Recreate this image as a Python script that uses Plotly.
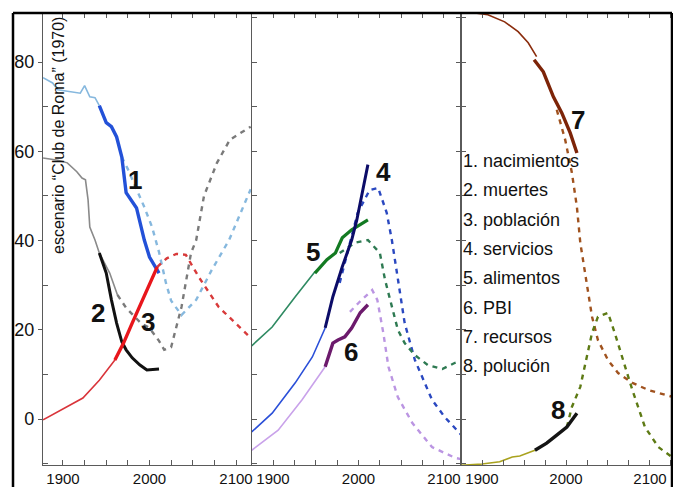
import plotly.graph_objects as go

# page body adds an 8px margin, so the figure is drawn 8px smaller and all
# screen-pixel positions below are shifted by that offset
OFF = 8
W, H = 681 - OFF, 487 - OFF

# ---------------- data ----------------
# Panel 1
births_hist_years = [1877, 1888, 1894, 1905, 1914, 1920, 1925, 1931, 1937, 1942]
births_hist_vals = [76.5, 75.3, 73.8, 73.5, 73.3, 73.0, 74.7, 72.2, 72.0, 70.2]
births_obs_years = [1942, 1950, 1956, 1962, 1968, 1973, 1985, 1994, 2000, 2011]
births_obs_vals = [70.2, 66.4, 65.5, 63.2, 58.7, 50.7, 47.3, 40.1, 36.3, 32.7]
births_proj_years = [1968, 1975, 1985, 1994, 2003, 2011, 2019, 2025, 2037, 2054, 2072, 2092, 2117]
births_proj_vals = [58.7, 56.0, 51.5, 47.5, 43.0, 37.4, 30.5, 26.5, 23.3, 26.7, 33.4, 40.1, 51.5]

deaths_hist_years = [1877, 1894, 1905, 1916, 1922, 1926, 1929, 1931, 1937, 1942, 1954, 1963]
deaths_hist_vals = [58.5, 58.0, 57.4, 55.4, 54.0, 53.6, 49.1, 43.0, 40.1, 37.2, 32.7, 27.8]
deaths_obs_years = [1942, 1950, 1956, 1962, 1968, 1973, 1980, 1989, 1997, 2011]
deaths_obs_vals = [37.2, 32.7, 26.7, 21.5, 17.3, 15.5, 13.7, 12.1, 11.0, 11.2]
deaths_proj_years = [1963, 1973, 1990, 2000, 2011, 2017, 2025, 2037, 2048, 2054, 2063, 2078, 2093, 2105, 2117]
deaths_proj_vals = [27.8, 24.9, 21.5, 20.4, 17.5, 15.5, 16.1, 25.1, 37.2, 40.1, 50.0, 57.4, 62.6, 64.1, 65.5]

pop_hist_years = [1877, 1897, 1923, 1942, 1962]
pop_hist_vals = [-0.2, 2.0, 4.7, 8.7, 13.7]
pop_obs_years = [1960, 1970, 1980, 1992, 2000, 2009]
pop_obs_vals = [13.2, 17.0, 21.5, 26.7, 30.0, 34.1]
pop_proj_years = [2009, 2020, 2031, 2042, 2057, 2080, 2118]
pop_proj_vals = [34.1, 36.0, 37.0, 36.8, 31.8, 25.1, 18.0]

# Panel 2
serv_hist_years = [1875, 1899, 1926, 1946, 1961]
serv_hist_vals = [-2.9, 1.3, 8.1, 13.9, 20.4]
serv_obs_years = [1961, 1970, 1981, 1992, 1998, 2011]
serv_obs_vals = [20.4, 27.4, 34.1, 40.1, 44.6, 57.0]
serv_proj_years = [1978, 1987, 1999, 2013, 2023, 2033, 2039, 2045, 2054, 2066, 2086, 2101, 2120]
serv_proj_vals = [30.5, 37.2, 46.2, 51.3, 51.8, 46.2, 40.1, 32.7, 21.5, 13.2, 4.3, 0.4, -3.5]

food_hist_years = [1875, 1899, 1926, 1949]
food_hist_vals = [16.4, 20.6, 27.4, 33.0]
food_obs_years = [1949, 1963, 1973, 1981, 1992, 2011]
food_obs_vals = [32.7, 35.7, 37.2, 40.6, 42.4, 44.6]
food_proj_years = [1978, 1996, 2011, 2025, 2031, 2039, 2046, 2054, 2066, 2081, 2098, 2113, 2120]
food_proj_vals = [37.2, 39.5, 40.1, 37.2, 31.2, 25.1, 20.0, 17.0, 14.3, 12.1, 11.2, 12.6, 13.0]

gdp_hist_years = [1875, 1906, 1934, 1961]
gdp_hist_vals = [-7.0, -2.5, 4.3, 11.7]
gdp_obs_years = [1961, 1970, 1976, 1984, 1992, 2002, 2011]
gdp_obs_vals = [11.7, 17.0, 17.7, 18.4, 20.4, 23.8, 25.6]
gdp_proj_years = [1990, 2000, 2016, 2022, 2029, 2035, 2046, 2063, 2086, 2113, 2120]
gdp_proj_vals = [24.0, 26.0, 28.9, 26.7, 19.3, 11.7, 4.9, -0.9, -6.3, -8.7, -9.0]

# Panel 3
res_hist_years = [1885, 1892, 1907, 1927, 1943, 1955, 1965]
res_hist_vals = [92.0, 91.0, 90.6, 89.0, 86.8, 84.3, 81.2]
res_obs_years = [1962, 1973, 1985, 1995, 2005, 2013]
res_obs_vals = [80.5, 77.8, 72.2, 68.6, 64.1, 59.6]
res_proj_years = [1989, 1999, 2007, 2013, 2017, 2025, 2031, 2038, 2050, 2062, 2079, 2098, 2118, 2126]
res_proj_vals = [69.3, 62.6, 55.2, 47.5, 39.5, 30.5, 22.9, 17.7, 13.2, 10.3, 8.1, 6.5, 5.4, 5.0]

pol_hist_years = [1875, 1900, 1921, 1936, 1945, 1954, 1963]
pol_hist_vals = [-10.4, -10.1, -9.6, -8.5, -8.3, -7.6, -7.0]
pol_obs_years = [1963, 1977, 1989, 2001, 2013]
pol_obs_vals = [-7.0, -5.4, -3.6, -1.8, 1.3]
pol_proj_years = [2001, 2007, 2017, 2025, 2031, 2038, 2050, 2058, 2068, 2079, 2094, 2110, 2126]
pol_proj_vals = [-1.8, 2.7, 7.2, 13.9, 19.3, 22.9, 23.8, 19.3, 13.2, 6.5, -1.8, -6.3, -8.5]

legend_items = ["1. nacimientos", "2. muertes", "3. población", "4. servicios",
                "5. alimentos", "6. PBI", "7. recursos", "8. polución"]
y_title = "escenario \u201cClub de Roma\u201d (1970)"
y_tick_vals = [0, 20, 40, 60, 80]
x_tick_vals = [1900, 1925, 1950, 1975, 2000, 2025, 2050, 2075, 2100, 2125]
x_tick_text = ["1900", "", "", "", "2000", "", "", "", "2100", ""]

# ---------------- layout helpers (screen pixels -> paper) ----------------
def px(x):
    return (x - OFF) / W

def py(y):
    return 1 - (y - OFF) / H

FONT = "Liberation Sans, Arial, sans-serif"
AXC = "#5a5a5a"

fig = go.Figure()

def line(xs, ys, color, width, panel, dash=None):
    ax = "" if panel == 1 else str(panel)
    fig.add_trace(go.Scatter(
        x=xs, y=ys, mode="lines", xaxis="x" + ax, yaxis="y" + ax,
        line=dict(color=color, width=width, dash=dash),
        hoverinfo="skip", showlegend=False))

DASH = "5px,5px"
# panel 1
line(births_proj_years, births_proj_vals, "#86b8de", 2.4, 1, DASH)
line(deaths_proj_years, deaths_proj_vals, "#7a7a7a", 2.4, 1, DASH)
line(pop_proj_years, pop_proj_vals, "#d83a3a", 2.4, 1, DASH)
line(births_hist_years, births_hist_vals, "#86b8de", 1.6, 1)
line(deaths_hist_years, deaths_hist_vals, "#8a8a8a", 1.6, 1)
line(pop_hist_years, pop_hist_vals, "#d9343a", 1.6, 1)
line(births_obs_years, births_obs_vals, "#2351d8", 3.4, 1)
line(deaths_obs_years, deaths_obs_vals, "#111111", 3.0, 1)
line(pop_obs_years, pop_obs_vals, "#e8161c", 3.4, 1)
# panel 2
line(serv_proj_years, serv_proj_vals, "#2a48c0", 2.4, 2, DASH)
line(food_proj_years, food_proj_vals, "#2e7a52", 2.4, 2, DASH)
line(gdp_proj_years, gdp_proj_vals, "#bb95e2", 2.4, 2, DASH)
line(serv_hist_years, serv_hist_vals, "#2a4fd8", 1.6, 2)
line(food_hist_years, food_hist_vals, "#2f8a62", 1.6, 2)
line(gdp_hist_years, gdp_hist_vals, "#c9a2ea", 1.6, 2)
line(food_obs_years, food_obs_vals, "#137a22", 3.2, 2)
line(serv_obs_years, serv_obs_vals, "#0c0c68", 3.0, 2)
line(gdp_obs_years, gdp_obs_vals, "#6c1a6c", 3.4, 2)
# panel 3
line(res_proj_years, res_proj_vals, "#a0521e", 2.4, 3, DASH)
line(pol_proj_years, pol_proj_vals, "#5d7a14", 2.4, 3, DASH)
line(res_hist_years, res_hist_vals, "#8a2c0c", 1.6, 3)
line(pol_hist_years, pol_hist_vals, "#a9a21e", 1.6, 3)
line(res_obs_years, res_obs_vals, "#7d2408", 3.4, 3)
line(pol_obs_years, pol_obs_vals, "#141414", 3.4, 3)

ydom = [py(465), py(13)]
yrange = [(419 - 465) / 4.4625, (419 - 13) / 4.4625]
panels = [
    dict(dom=[px(43), px(252)], rng=[1876.9, 2118.5]),
    dict(dom=[px(252), px(461)], rng=[1875.4, 2119.9]),
    dict(dom=[px(461), px(672)], rng=[1875.0, 2126.2]),
]

layout = dict(
    width=W, height=H, margin=dict(l=0, r=0, t=0, b=0, autoexpand=False),
    paper_bgcolor="white", plot_bgcolor="white", showlegend=False,
    font=dict(family=FONT, color="#111111", size=16),
)
for i, p in enumerate(panels, start=1):
    k = "" if i == 1 else str(i)
    layout["xaxis" + k] = dict(
        domain=p["dom"], range=p["rng"], anchor="y" + k,
        showline=True, linecolor=AXC, linewidth=1.2, mirror="ticks",
        ticks="inside", ticklen=5, tickwidth=1.2, tickcolor=AXC,
        tickmode="array", tickvals=x_tick_vals, ticktext=x_tick_text,
        tickfont=dict(family=FONT, size=15, color="#111111"),
        showgrid=False, zeroline=False, automargin=False, fixedrange=True)
    yax = dict(
        domain=ydom, range=yrange, anchor="x" + k,
        showline=True, linecolor=AXC, linewidth=1.2,
        showgrid=False, zeroline=False, automargin=False, fixedrange=True)
    if i == 1:
        yax.update(tickmode="array", tickvals=y_tick_vals, ticks="outside",
                   ticklen=4, tickwidth=1.2, tickcolor=AXC,
                   tickfont=dict(family=FONT, size=18, color="#111111"),
                   minor=dict(tickmode="array", tickvals=[-10, 10, 30, 50, 70],
                              ticks="inside", ticklen=5, tickwidth=1.2, tickcolor=AXC))
    else:
        yax.update(tickmode="linear", tick0=0, dtick=10, ticks="inside",
                   ticklen=5, tickwidth=1.2, tickcolor=AXC,
                   showticklabels=False, mirror="ticks" if i == 2 else False)
    layout["yaxis" + k] = yax

fig.update_layout(**layout)

# outer black frame
frame = dict(type="line", xref="paper", yref="paper", line=dict(color="black", width=2.5))
fig.add_shape(**frame, x0=px(13), x1=px(13), y0=-0.05, y1=py(13))
fig.add_shape(**frame, x0=px(13), x1=px(672), y0=py(13), y1=py(13))
fig.add_shape(**frame, x0=px(672), x1=px(672), y0=-0.05, y1=py(13))

# y-axis title inside panel 1
fig.add_annotation(text=y_title, xref="paper", yref="paper", x=px(59), y=py(136),
                   textangle=-90, showarrow=False, xanchor="center", yanchor="middle",
                   font=dict(family=FONT, size=16, color="#111111"))

# numbered series labels
num_labels = [
    ("1", 1983, 53.6, ""), ("2", 1940, 23.8, ""), ("3", 1998, 21.7, ""),
    ("4", 2029, 55.4, "2"), ("5", 1947, 37.4, "2"), ("6", 1991, 15.0, "2"),
    ("7", 2014, 67.0, "3"), ("8", 1990, 2.0, "3"),
]
for t, xv, yv, k in num_labels:
    fig.add_annotation(text="<b>%s</b>" % t, x=xv, y=yv, xref="x" + k, yref="y" + k,
                       showarrow=False, font=dict(family=FONT, size=26, color="#111111"))

# legend text block
for j, item in enumerate(legend_items):
    fig.add_annotation(text=item, xref="paper", yref="paper", x=px(461), y=py(161 + 29.3 * j),
                       xanchor="left", yanchor="middle", showarrow=False,
                       font=dict(family=FONT, size=18, color="#111111"))

fig.write_html("out.html")
